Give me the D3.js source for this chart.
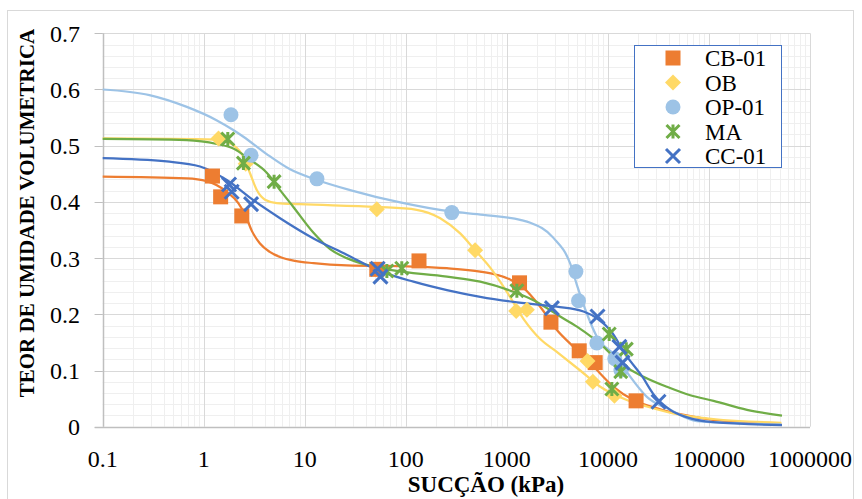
<!DOCTYPE html>
<html>
<head>
<meta charset="utf-8">
<script src="https://cdn.jsdelivr.net/npm/d3@7"></script>
<style>
  body { margin: 0; background: #fff; }
  text { font-family: "Liberation Serif", "Times New Roman", serif; fill: #000; }
</style>
</head>
<body>
<div id="chart"></div>
<script>
// ---- data ----
const seriesNames = ["CB-01", "OB", "OP-01", "MA", "CC-01"];

// measured points (suction kPa, volumetric water content)
const cb01Suction = [1.22, 1.47, 2.38, 51.6, 135, 1334, 2730, 5200, 7480, 19000];
const cb01Theta   = [0.446, 0.409, 0.375, 0.280, 0.295, 0.256, 0.186, 0.135, 0.114, 0.046];
const obSuction   = [1.40, 2.6, 51.6, 485, 1236, 1577, 6280, 7100, 11600];
const obTheta     = [0.513, 0.468, 0.387, 0.314, 0.206, 0.208, 0.117, 0.080, 0.055];
const op01Suction = [1.86, 2.94, 13.2, 285, 4820, 5120, 7770, 11700, 13430];
const op01Theta   = [0.555, 0.483, 0.441, 0.381, 0.276, 0.224, 0.149, 0.121, 0.101];
const maSuction   = [1.73, 2.47, 4.97, 64.9, 91.2, 1256, 10300, 15200, 13400, 10940];
const maTheta     = [0.512, 0.469, 0.436, 0.277, 0.282, 0.242, 0.165, 0.138, 0.098, 0.067];
const cc01Suction = [1.78, 1.89, 2.94, 52.6, 56.1, 2790, 7890, 13000, 13960, 31700];
const cc01Theta   = [0.431, 0.418, 0.396, 0.281, 0.267, 0.211, 0.196, 0.142, 0.114, 0.0445];

// fitted curves
const cb01CurveX = [0.1, 0.68, 1.07, 1.69, 2.2, 2.6, 3.0, 3.6, 4.5, 5.7, 8, 12.2, 26, 119, 255, 545, 800, 1076, 1459, 2138, 3127, 4570, 7200, 11350, 17900, 32900, 60000, 110000, 520000];
const cb01CurveY = [0.445, 0.442, 0.437, 0.418, 0.398, 0.375, 0.348, 0.326, 0.311, 0.302, 0.295, 0.291, 0.287, 0.285, 0.282, 0.276, 0.270, 0.262, 0.247, 0.2135, 0.172, 0.142, 0.107, 0.071, 0.0475, 0.031, 0.020, 0.012, 0.005];
const obCurveX = [0.1, 1.35, 1.96, 2.47, 2.87, 3.35, 4.04, 5.28, 8.97, 51.6, 128, 219, 345, 485, 684, 1000, 1459, 2138, 3076, 5321, 8400, 15400, 24300, 52400, 110000, 520000];
const obCurveY = [0.513, 0.511, 0.501, 0.480, 0.451, 0.421, 0.404, 0.398, 0.396, 0.391, 0.386, 0.371, 0.344, 0.314, 0.283, 0.240, 0.192, 0.156, 0.134, 0.100, 0.071, 0.0475, 0.036, 0.021, 0.0137, 0.007];
const op01CurveX = [0.1, 0.29, 0.68, 1.35, 1.96, 2.47, 4.2, 7.15, 13.2, 28.1, 88, 275, 586, 1355, 1706, 2890, 4236, 4937, 6197, 7780, 12270, 16630, 24300, 41400, 76000, 520000];
const op01CurveY = [0.600, 0.590, 0.569, 0.545, 0.528, 0.516, 0.485, 0.458, 0.439, 0.421, 0.399, 0.383, 0.377, 0.368, 0.363, 0.336, 0.290, 0.252, 0.201, 0.160, 0.124, 0.089, 0.053, 0.030, 0.010, 0.004];
const maCurveX = [0.1, 0.68, 1.35, 1.96, 2.87, 4.2, 5.69, 7.71, 12.2, 17.8, 26, 41.1, 70, 255, 545, 1161, 1834, 3373, 4937, 9060, 13250, 22500, 38370, 65300, 111000, 238000, 528000];
const maCurveY = [0.512, 0.510, 0.503, 0.495, 0.475, 0.452, 0.421, 0.391, 0.345, 0.316, 0.300, 0.288, 0.279, 0.267, 0.258, 0.240, 0.225, 0.196, 0.178, 0.142, 0.113, 0.089, 0.071, 0.056, 0.046, 0.030, 0.0196];
const cc01CurveX = [0.1, 0.43, 0.92, 1.69, 3.1, 5.69, 12.2, 26, 51.6, 119, 255, 545, 1161, 3127, 5730, 7780, 10520, 15400, 21900, 28200, 41400, 60000, 110000, 528000];
const cc01CurveY = [0.478, 0.472, 0.463, 0.439, 0.403, 0.371, 0.335, 0.306, 0.279, 0.258, 0.243, 0.231, 0.222, 0.2135, 0.205, 0.193, 0.172, 0.125, 0.089, 0.058, 0.030, 0.017, 0.008, 0.003];

const xTickLabels = ["0.1", "1", "10", "100", "1000", "10000", "100000", "1000000"];
const yTickLabels = ["0", "0.1", "0.2", "0.3", "0.4", "0.5", "0.6", "0.7"];

// ---- styles ----
const colors = ["#ed7d31", "#ffd966", "#9dc3e6", "#70ad47", "#4472c4"];
const shapes = ["square", "diamond", "circle", "star", "x"];

const series = [
  { px: cb01Suction, py: cb01Theta, cx: cb01CurveX, cy: cb01CurveY },
  { px: obSuction,   py: obTheta,   cx: obCurveX,   cy: obCurveY },
  { px: op01Suction, py: op01Theta, cx: op01CurveX, cy: op01CurveY },
  { px: maSuction,   py: maTheta,   cx: maCurveX,   cy: maCurveY },
  { px: cc01Suction, py: cc01Theta, cx: cc01CurveX, cy: cc01CurveY }
].map((s, i) => ({ ...s, name: seriesNames[i], color: colors[i], shape: shapes[i] }));

const W = 862, H = 499;
const plotLeft = 102.7, plotRight = 810, plotTop = 33.3, plotBottom = 426.7;

const svg = d3.select("#chart").append("svg")
  .attr("width", W).attr("height", H);

svg.append("rect")
  .attr("x", 7.5).attr("y", 10.5).attr("width", 846).attr("height", 500)
  .attr("fill", "#fff").attr("stroke", "#d9d9d9");

const x = d3.scaleLog().domain([0.1, 1e6]).range([plotLeft, plotRight]);
const y = d3.scaleLinear().domain([0, 0.7]).range([plotBottom, plotTop]);

// grid
const grid = svg.append("g");
const minorX = [];
for (let e = -1; e < 6; e++) for (let k = 2; k <= 9; k++) minorX.push(k * Math.pow(10, e));
const majorX = xTickLabels.map(Number);
const minorY = d3.range(0, 36).map(i => i * 0.02).filter(v => Math.abs(v * 10 - Math.round(v * 10)) > 1e-6);
const majorY = yTickLabels.map(Number);

grid.selectAll(".mx").data(minorX).enter().append("line")
  .attr("x1", d => Math.round(x(d)) + 0.5).attr("x2", d => Math.round(x(d)) + 0.5)
  .attr("y1", plotTop).attr("y2", plotBottom)
  .attr("stroke", "#efefef").attr("stroke-width", 1);
grid.selectAll(".my").data(minorY).enter().append("line")
  .attr("x1", plotLeft).attr("x2", plotRight)
  .attr("y1", d => Math.round(y(d)) + 0.5).attr("y2", d => Math.round(y(d)) + 0.5)
  .attr("stroke", "#efefef").attr("stroke-width", 1);
grid.selectAll(".Mx").data(majorX).enter().append("line")
  .attr("x1", d => Math.round(x(d)) + 0.5).attr("x2", d => Math.round(x(d)) + 0.5)
  .attr("y1", plotTop).attr("y2", plotBottom)
  .attr("stroke", "#d9d9d9").attr("stroke-width", 1);
grid.selectAll(".My").data(majorY).enter().append("line")
  .attr("x1", plotLeft - 8).attr("x2", plotRight)
  .attr("y1", d => Math.round(y(d)) + 0.5).attr("y2", d => Math.round(y(d)) + 0.5)
  .attr("stroke", d => d === 0 ? "#bfbfbf" : "#d9d9d9").attr("stroke-width", d => d === 0 ? 1.5 : 1);

// y-axis line and ticks
svg.append("line")
  .attr("x1", Math.round(plotLeft) + 0.5).attr("x2", Math.round(plotLeft) + 0.5)
  .attr("y1", plotTop).attr("y2", plotBottom)
  .attr("stroke", "#bfbfbf").attr("stroke-width", 1.5);
svg.selectAll(".ytick").data(majorY).enter().append("line")
  .attr("x1", plotLeft - 8).attr("x2", plotLeft)
  .attr("y1", d => Math.round(y(d)) + 0.5).attr("y2", d => Math.round(y(d)) + 0.5)
  .attr("stroke", "#bfbfbf");

// tick labels
svg.selectAll(".xl").data(xTickLabels).enter().append("text")
  .attr("x", d => x(+d)).attr("y", 467)
  .attr("text-anchor", "middle").attr("font-size", 24)
  .text(d => d);
svg.selectAll(".yl").data(yTickLabels).enter().append("text")
  .attr("x", 80).attr("y", d => y(+d) + 8.5)
  .attr("text-anchor", "end").attr("font-size", 24)
  .text(d => d);

// axis titles
svg.append("text")
  .attr("transform", "translate(34,213) rotate(-90)")
  .attr("text-anchor", "middle").attr("font-size", 21).attr("font-weight", "bold")
  .text("TEOR DE UMIDADE VOLUMETRICA");
svg.append("text")
  .attr("x", 486).attr("y", 492)
  .attr("text-anchor", "middle").attr("font-size", 23).attr("font-weight", "bold")
  .text("SUCÇÃO (kPa)");

// curves
const line = d3.line().x(d => x(d[0])).y(d => y(d[1])).curve(d3.curveMonotoneX);
svg.append("g").selectAll("path").data(series).enter().append("path")
  .attr("d", s => line(s.cx.map((v, i) => [v, s.cy[i]])))
  .attr("fill", "none").attr("stroke", s => s.color).attr("stroke-width", 2.25);

// markers
function drawMarker(g, shape, color) {
  if (shape === "square") {
    g.append("rect").attr("x", -7.5).attr("y", -7.5).attr("width", 15).attr("height", 15).attr("fill", color);
  } else if (shape === "diamond") {
    g.append("path").attr("d", "M0,-8L8,0L0,8L-8,0Z").attr("fill", color);
  } else if (shape === "circle") {
    g.append("circle").attr("r", 7.5).attr("fill", color);
  } else if (shape === "x") {
    g.append("path").attr("d", "M-7,-7L7,7M-7,7L7,-7")
      .attr("stroke", color).attr("stroke-width", 3).attr("fill", "none");
  } else if (shape === "star") {
    g.append("path").attr("d", "M-6.5,-6.5L6.5,6.5M-6.5,6.5L6.5,-6.5M0,-7L0,7")
      .attr("stroke", color).attr("stroke-width", 3).attr("fill", "none");
  }
}

series.forEach(s => {
  const pts = s.px.map((v, i) => [v, s.py[i]]);
  svg.append("g").selectAll("g").data(pts).enter().append("g")
    .attr("transform", d => `translate(${x(d[0])},${y(d[1])})`)
    .each(function() { drawMarker(d3.select(this), s.shape, s.color); });
});

// legend
const legend = svg.append("g");
legend.append("rect")
  .attr("x", 634.5).attr("y", 45.5).attr("width", 147).attr("height", 122)
  .attr("fill", "#fff").attr("stroke", "#4472c4").attr("stroke-width", 1);
series.forEach((s, i) => {
  const ly = 58 + i * 24.5;
  const g = legend.append("g").attr("transform", `translate(673,${ly})`);
  drawMarker(g, s.shape, s.color);
  legend.append("text").attr("x", 705).attr("y", ly + 8).attr("font-size", 23).text(s.name);
});
</script>
</body>
</html>
